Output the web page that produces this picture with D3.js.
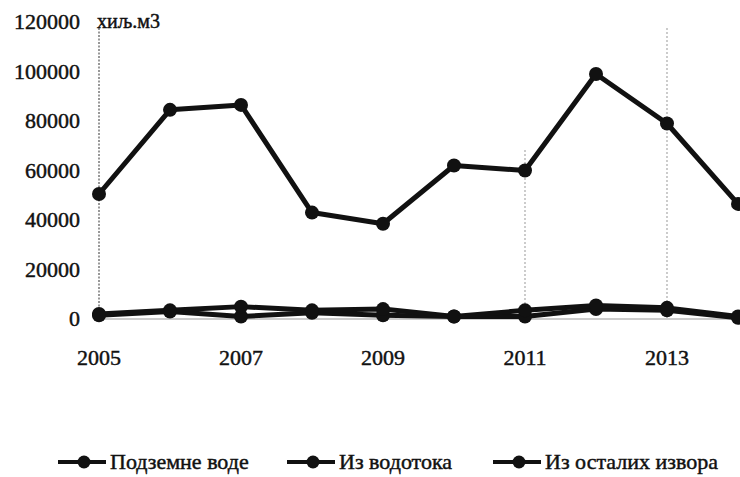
<!DOCTYPE html>
<html><head><meta charset="utf-8">
<script src="https://cdn.jsdelivr.net/npm/d3@7"></script>
<style>body{margin:0;background:#fff}svg{display:block}</style>
</head><body><svg id="c" width="740" height="477"></svg>
<script>
const years = [2005,2006,2007,2008,2009,2010,2011,2012,2013,2014];
const seriesNames = ["Подземне воде","Из водотока","Из осталих извора"];
const podzemne = [50500,84500,86500,43000,38500,62000,60000,99000,79000,46500];
const vodotok = [2000,3500,5000,3500,4000,1000,3500,5500,4500,1000];
const ostali = [1500,3000,1000,2500,1500,1000,1000,4000,3500,500];
const yTicks = [0,20000,40000,60000,80000,100000,120000];
const xTicks = [2005,2007,2009,2011,2013];
const unitLabel = "хиљ.м3";

const FONT = "'Liberation Serif', 'DejaVu Serif', 'Times New Roman', serif";
const svg = d3.select("#c").attr("font-family", FONT);
const x = d3.scaleLinear().domain([2005,2014]).range([99,738]);
const y = d3.scaleLinear().domain([0,120000]).range([319,22]);

function txt(sel){ return sel.attr("font-family",FONT).attr("fill","#111").attr("stroke","#111").attr("stroke-width",0.45); }

[2011,2013].forEach(v=>{
  svg.append("line").attr("x1",x(v)).attr("x2",x(v)).attr("y1",v===2013?28:150).attr("y2",319)
    .attr("stroke","#aaa").attr("stroke-width",1.2).attr("stroke-dasharray","2,2");
});
svg.append("line").attr("x1",x(2005)).attr("x2",x(2005)).attr("y1",28).attr("y2",319)
  .attr("stroke","#777").attr("stroke-width",1.5).attr("stroke-dasharray","2,1.5");
svg.append("line").attr("x1",x(2005)).attr("x2",740).attr("y1",y(0)).attr("y2",y(0))
  .attr("stroke","#999").attr("stroke-width",1);

txt(svg.selectAll(".yt").data(yTicks).enter().append("text")
  .attr("x",80).attr("y",d=>y(d)+7).attr("text-anchor","end")
  .attr("font-size",22).text(d=>d));
txt(svg.selectAll(".xt").data(xTicks).enter().append("text")
  .attr("x",d=>x(d)).attr("y",365).attr("text-anchor","middle")
  .attr("font-size",22).text(d=>d));
txt(svg.append("text").attr("x",97).attr("y",28).attr("font-size",20).text(unitLabel));

const line = d3.line().x((d,i)=>x(years[i])).y(d=>y(d));
[ostali,vodotok,podzemne].forEach(s=>{
  svg.append("path").attr("d",line(s)).attr("fill","none").attr("stroke","#111").attr("stroke-width",5).attr("stroke-linejoin","round");
  svg.selectAll(null).data(s).enter().append("circle")
    .attr("cx",(d,i)=>x(years[i])).attr("cy",d=>y(d)).attr("r",7).attr("fill","#111");
});

const legX = [58,287,493];
seriesNames.forEach((n,i)=>{
  const g = svg.append("g").attr("transform",`translate(${legX[i]},462)`);
  g.append("line").attr("x1",0).attr("x2",48).attr("y1",0).attr("y2",0).attr("stroke","#111").attr("stroke-width",4);
  g.append("circle").attr("cx",26).attr("cy",0).attr("r",6.5).attr("fill","#111");
  txt(g.append("text").attr("x",52).attr("y",7).attr("font-size",22).text(n));
});
</script></body></html>
